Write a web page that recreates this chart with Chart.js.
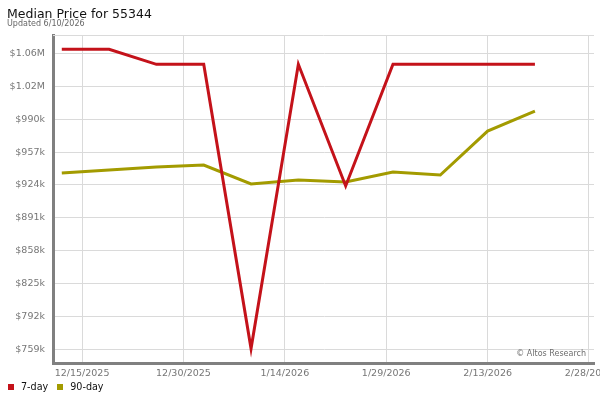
<!DOCTYPE html>
<html>
<head>
<meta charset="utf-8">
<script src="https://cdn.jsdelivr.net/npm/chart.js@4.4.1/dist/chart.umd.min.js"></script>
<style>
  body { margin: 0; background: #fff; font-family: "DejaVu Sans", sans-serif; }
  #wrap { position: relative; width: 600px; height: 400px; overflow: hidden; }
  #myChart { position: absolute; left: 0; top: 0; }
  .title { position: absolute; left: 7px; top: 7.7px; font-size: 12.5px; line-height: 12.5px; color: #111; white-space: nowrap; }
  .sub { position: absolute; left: 7px; top: 19.9px; font-size: 8px; line-height: 8px; color: #666; white-space: nowrap; }
  .legend { position: absolute; left: 8px; top: 381.9px; font-size: 9.6px; line-height: 9.6px; color: #111; white-space: nowrap; }
  .legend span.box { display: inline-block; width: 6px; height: 6px; vertical-align: baseline; margin-right: 7px; }
  .legend span.item { margin-right: 9px; }
  .mark { position: absolute; right: 14px; top: 350px; font-size: 8px; line-height: 8px; color: #6e6e6e; white-space: nowrap; }
</style>
</head>
<body>
<div id="wrap">
  <canvas id="myChart" width="600" height="400"></canvas>
  <div class="title">Median Price for 55344</div>
  <div class="sub">Updated 6/10/2026</div>
  <div class="mark">© Altos Research</div>
  <div class="legend" id="legend"></div>
</div>
<script>
// weekly data points
const dates = ['2025-12-12', '2025-12-19', '2025-12-26', '2026-01-02', '2026-01-09', '2026-01-16',
               '2026-01-23', '2026-01-30', '2026-02-06', '2026-02-13', '2026-02-20'];
const sevenDay = [1060000, 1060000, 1045000, 1045000, 760000, 1045000, 923000, 1045000, 1045000, 1045000, 1045000];
const ninetyDay = [936000, 939000, 942000, 944000, 925000, 929000, 927000, 937000, 934000, 978000, 998000];

const xTickDates = ['2025-12-15', '2025-12-30', '2026-01-14', '2026-01-29', '2026-02-13', '2026-02-28'];
const xTickLabels = ['12/15/2025', '12/30/2025', '1/14/2026', '1/29/2026', '2/13/2026', '2/28/2026'];
const yTicks = [759000, 792000, 825000, 858000, 891000, 924000, 957000, 990000, 1023000, 1056000];
const yTickLabels = ['$759k', '$792k', '$825k', '$858k', '$891k', '$924k', '$957k', '$990k', '$1.02M', '$1.06M'];

const seriesNames = ['7-day', '90-day'];
const seriesColors = ['#c4121a', '#a39b00'];

function day(s) {
    const p = s.split('-');
    return Date.UTC(+p[0], +p[1] - 1, +p[2]) / 86400000;
}

const xTickValues = xTickDates.map(day);

document.getElementById('legend').innerHTML = seriesNames.map(function (name, i) {
    return '<span class="item"><span class="box" style="background:' + seriesColors[i] + '"></span>' + name + '</span>';
}).join('');

const topBorder = {
    id: 'topBorder',
    beforeDatasetsDraw: function (chart) {
        const a = chart.chartArea;
        const ctx = chart.ctx;
        ctx.save();
        ctx.strokeStyle = '#dadada';
        ctx.lineWidth = 1;
        ctx.beginPath();
        ctx.moveTo(a.left, a.top + 0.5);
        ctx.lineTo(a.right, a.top + 0.5);
        ctx.stroke();
        ctx.restore();
    }
};

const ctx = document.getElementById('myChart').getContext('2d');

new Chart(ctx, {
    type: 'line',
    data: {
        datasets: [
            {
                label: seriesNames[0],
                data: dates.map(function (d, i) { return { x: day(d), y: sevenDay[i] }; }),
                borderColor: seriesColors[0],
                backgroundColor: seriesColors[0],
                borderWidth: 3,
                pointRadius: 0,
                tension: 0
            },
            {
                label: seriesNames[1],
                data: dates.map(function (d, i) { return { x: day(d), y: ninetyDay[i] }; }),
                borderColor: seriesColors[1],
                backgroundColor: seriesColors[1],
                borderWidth: 3,
                pointRadius: 0,
                tension: 0
            }
        ]
    },
    options: {
        responsive: false,
        animation: false,
        layout: { padding: { top: 35, right: 6, left: 0, bottom: 0 } },
        plugins: {
            legend: { display: false },
            title: { display: false },
            tooltip: { enabled: false }
        },
        scales: {
            x: {
                type: 'linear',
                min: day('2025-12-15') - 4.3,
                max: day('2026-02-28') + 0.74,
                afterBuildTicks: function (scale) {
                    scale.ticks = xTickValues.map(function (v) { return { value: v }; });
                },
                afterFit: function (scale) {
                    scale.height = 37;
                    scale.paddingLeft = 0;
                    scale.paddingRight = 0;
                },
                grid: { color: '#dadada', lineWidth: 1, drawTicks: false },
                border: { color: '#808080', width: 3 },
                ticks: {
                    padding: 5,
                    maxRotation: 0,
                    autoSkip: false,
                    color: '#767676',
                    font: { family: 'DejaVu Sans', size: 9.5 },
                    callback: function (v, i) { return xTickLabels[i]; }
                }
            },
            y: {
                min: 745500,
                max: 1074400,
                afterBuildTicks: function (scale) {
                    scale.ticks = yTicks.map(function (v) { return { value: v }; });
                },
                afterFit: function (scale) {
                    scale.width = 53;
                    scale.paddingTop = 0;
                    scale.paddingBottom = 0;
                },
                grid: { color: '#dadada', lineWidth: 1, drawTicks: false },
                border: { color: '#808080', width: 3 },
                ticks: {
                    padding: 8,
                    autoSkip: false,
                    color: '#767676',
                    font: { family: 'DejaVu Sans', size: 9.5 },
                    callback: function (v, i) { return yTickLabels[i]; }
                }
            }
        }
    },
    plugins: [topBorder]
});
</script>
</body>
</html>
